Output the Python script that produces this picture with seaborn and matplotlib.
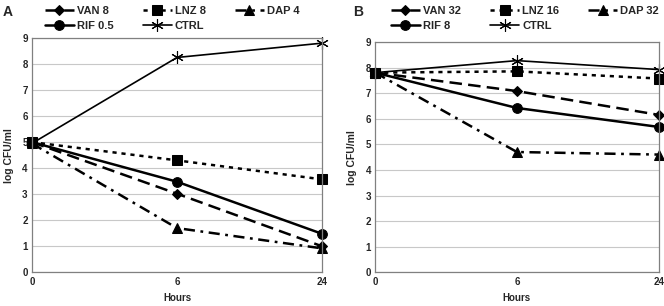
import pandas as pd
import matplotlib.pyplot as plt
import seaborn as sns

hours = ["0", "6", "24"]

# panel A
labels_a = ["VAN 8", "LNZ 8", "DAP 4", "RIF 0.5", "CTRL"]
van_a = [5.0, 3.02, 1.0]
lnz_a = [5.0, 4.3, 3.57]
dap_a = [4.95, 1.7, 0.92]
rif_a = [5.0, 3.48, 1.48]
ctrl_a = [4.95, 8.25, 8.8]

# panel B
labels_b = ["VAN 32", "LNZ 16", "DAP 32", "RIF 8", "CTRL"]
van_b = [7.8, 7.08, 6.15]
lnz_b = [7.8, 7.85, 7.57]
dap_b = [7.8, 4.7, 4.6]
rif_b = [7.8, 6.42, 5.68]
ctrl_b = [7.8, 8.27, 7.92]

sns.set_style("white")
plt.rcParams['font.family'] = ['Liberation Sans', 'DejaVu Sans']
plt.rcParams['font.weight'] = 'bold'
plt.rcParams['lines.scale_dashes'] = False

styles = [
    dict(marker="D", markersize=5, lw=1.8, dashes=(9, 4.5)),
    dict(marker="s", markersize=6.5, lw=1.8, dashes=(3, 3.5)),
    dict(marker="^", markersize=7, lw=1.8, dashes=(8, 4, 2, 4)),
    dict(marker="o", markersize=7, lw=1.8, dashes=None),
    dict(marker=(6, 2, 0), markersize=9, lw=1.2, dashes=None, mew=0.8),
]

fig = plt.figure(figsize=(6.64, 3.06), dpi=100)
ax_a = fig.add_axes([0.048, 0.11, 0.437, 0.766])
ax_b = fig.add_axes([0.565, 0.11, 0.427, 0.753])


def draw(ax, labels, series, legend_x, letter, letter_x, legend_y):
    for lab, vals, st in zip(labels, series, styles):
        st = dict(st)
        dashes = st.pop("dashes")
        sns.lineplot(x=hours, y=vals, sort=False, ax=ax, color="black",
                     label=lab, mfc="black", mec="black", **st)
        if dashes:
            ax.lines[-1].set_dashes(dashes)
    ax.set_ylim(0, 9)
    ax.set_xlim(0, 2)
    ax.set_yticks(range(10))
    ax.yaxis.grid(True, color="#c8c8c8", lw=0.8)
    ax.set_axisbelow(True)
    for s in ax.spines.values():
        s.set_color("#808080")
        s.set_linewidth(0.9)
    ax.tick_params(labelsize=7, length=0, pad=3)
    ax.set_xlabel("Hours", fontsize=7, fontweight="bold", labelpad=5)
    ax.set_ylabel("log CFU/ml", fontsize=7.5, fontweight="bold", labelpad=6)
    for t in ax.get_xticklabels() + ax.get_yticklabels():
        t.set_fontweight("bold")
    for l in ax.lines:
        l.set_clip_on(False)
    handles, labs = ax.get_legend_handles_labels()
    order = [0, 3, 1, 4, 2]  # row-wise fill
    ax.legend([handles[i] for i in order], [labs[i] for i in order],
              loc="lower left", bbox_to_anchor=(legend_x, legend_y), ncol=3, frameon=False,
              fontsize=8, handlelength=2.6, columnspacing=2.6, handletextpad=0.3,
              labelspacing=0.4, borderaxespad=0)
    fig.text(letter_x, 0.962, letter, fontsize=10, fontweight="bold", ha="left", va="center")


draw(ax_a, labels_a, [van_a, lnz_a, dap_a, rif_a, ctrl_a], 0.03, "A", 0.004, 1.012)
draw(ax_b, labels_b, [van_b, lnz_b, dap_b, rif_b, ctrl_b], 0.04, "B", 0.532, 1.03)

fig.savefig("out.png", dpi=100)
